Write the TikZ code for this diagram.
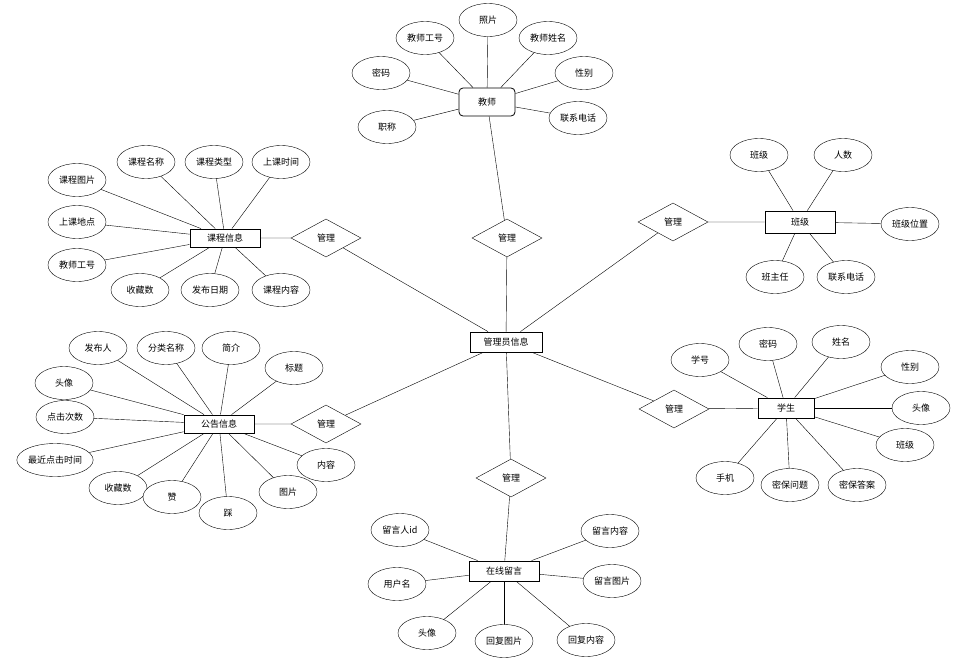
\documentclass[tikz,border=0pt]{standalone}
\usepackage{fontspec}
\setmainfont{Noto Sans CJK SC}
\usetikzlibrary{shapes.geometric}
\begin{document}
\begin{tikzpicture}[x=1pt,y=-1pt,font=\fontsize{9}{10}\selectfont,
  ent/.style={draw,thick,fill=white,minimum width=70pt,minimum height=18pt,inner sep=1pt},
  att/.style={draw,ellipse,fill=white,minimum width=58pt,minimum height=33pt,inner sep=0pt},
  rel/.style={draw,diamond,aspect=1.9,fill=white,minimum width=70pt,minimum height=38pt,inner sep=0pt}]
\useasboundingbox (0,0) rectangle (978,664);
% entities
\node[ent,minimum width=72pt,minimum height=20pt] (admin) at (506,342) {管理员信息};
\node[ent,rounded corners=4pt,minimum width=56pt,minimum height=28pt] (teacher) at (487,102) {教师};
\node[ent] (course) at (225,238) {课程信息};
\node[ent,minimum height=22pt] (cls) at (800,222) {班级};
\node[ent] (notice) at (219,424) {公告信息};
\node[ent,minimum width=56pt,minimum height=20pt] (stu) at (786,408) {学生};
\node[ent,minimum height=20pt] (msg) at (504,571) {在线留言};
% relations
\foreach \n/\x/\y/\e in {r1/507/238/teacher,r2/673/222/cls,r3/674/409/stu,r4/511/478/msg,r5/326/238/course,r6/326/424/notice}{
  \node[rel] (\n) at (\x,\y) {管理};
  \draw (admin) -- (\n) -- (\e);
}
% attributes
\foreach \t/\x/\y in {密码/381/73,教师工号/425/38,照片/488/20,教师姓名/548/38,性别/584/73,联系电话/578/118,职称/387/127}{
  \draw (teacher) -- (\x,\y);
  \node[att] at (\x,\y) {\t};
}
\foreach \t/\x/\y in {课程图片/77/180,课程名称/146/162,课程类型/214/162,上课时间/281/162,上课地点/77/222,教师工号/77/265,收藏数/140/290,发布日期/210/290,课程内容/281/290}{
  \draw (course) -- (\x,\y);
  \node[att] at (\x,\y) {\t};
}
\foreach \t/\x/\y in {班级/759/155,人数/843/155,班级位置/910/224,班主任/775/277,联系电话/846/277}{
  \draw (cls) -- (\x,\y);
  \node[att] at (\x,\y) {\t};
}
\foreach \t/\x/\y in {学号/700/360,密码/768/344,姓名/841/342,性别/910/367,头像/921/408,班级/905/445,手机/725/478,密保问题/790/485,密保答案/857/485}{
  \draw (stu) -- (\x,\y);
  \node[att] at (\x,\y) {\t};
}
\foreach \t/\x/\y in {发布人/98/348,分类名称/166/348,简介/231/348,标题/294/368,头像/64/383,点击次数/65/417,最近点击时间/55/460,收藏数/118/488,赞/172/497,踩/228/513,图片/288/492,内容/326/465}{
  \draw (notice) -- (\x,\y);
  \node[att] at (\x,\y) {\t};
}
\foreach \t/\x/\y in {留言人id/400/530,用户名/397/584,头像/427/633,回复图片/504/641,回复内容/586/640,留言内容/610/531,留言图片/612/581}{
  \draw (msg) -- (\x,\y);
  \node[att] at (\x,\y) {\t};
}
\end{tikzpicture}
\end{document}
